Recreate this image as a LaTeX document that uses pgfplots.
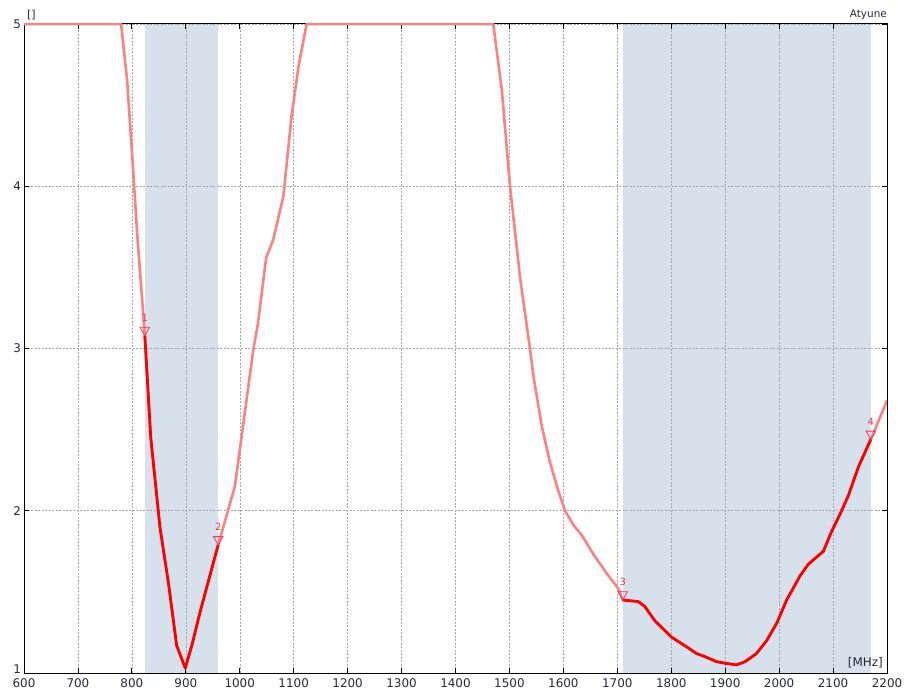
\documentclass[border=0pt]{standalone}
\usepackage{pgfplots}
\pgfplotsset{compat=1.18}
\usepackage{pgfplotstable}
\usepackage{fontspec}
\setmainfont{DejaVu Sans}
\definecolor{bandcol}{RGB}{214,225,236}
\definecolor{lightred}{RGB}{255,128,128}
\definecolor{markcol}{RGB}{255,50,80}
\definecolor{txt}{RGB}{40,40,60}

\pgfplotstableread{
x y
600 5.0
780 5.0
791 4.66
800 4.22
810 3.70
824 3.08
835 2.45
852 1.90
868 1.55
883 1.17
899 1.03
912 1.18
926 1.37
960 1.79
991 2.15
1025 2.99
1034 3.16
1049 3.56
1062 3.67
1081 3.94
1096 4.43
1109 4.74
1124 5.0
1470 5.0
1486 4.59
1501 4.00
1520 3.43
1538 3.00
1545 2.82
1560 2.52
1575 2.30
1589 2.14
1603 2.00
1619 1.91
1634 1.85
1656 1.73
1681 1.61
1702 1.52
1710 1.45
1739 1.44
1751 1.41
1770 1.32
1801 1.22
1829 1.16
1847 1.12
1863 1.10
1884 1.07
1900 1.06
1921 1.05
1937 1.07
1958 1.12
1977 1.20
1996 1.31
2014 1.45
2039 1.60
2054 1.67
2082 1.75
2097 1.87
2113 1.98
2128 2.09
2147 2.27
2170 2.44
2200 2.68
}\fullcurve

\pgfplotstableread{
x y
824 3.08
835 2.45
852 1.90
868 1.55
883 1.17
899 1.03
912 1.18
926 1.37
960 1.79
}\bandone

\pgfplotstableread{
x y
1710 1.45
1739 1.44
1751 1.41
1770 1.32
1801 1.22
1829 1.16
1847 1.12
1863 1.10
1884 1.07
1900 1.06
1921 1.05
1937 1.07
1958 1.12
1977 1.20
1996 1.31
2014 1.45
2039 1.60
2054 1.67
2082 1.75
2097 1.87
2113 1.98
2128 2.09
2147 2.27
2170 2.44
}\bandtwo

\pgfplotstableread{
x y l
824 3.08 1
960 1.79 2
1710 1.45 3
2170 2.44 4
}\markers

\begin{document}
\begin{tikzpicture}
\begin{axis}[
  name=ax,
  set layers,
  scale only axis, width=863bp, height=649bp,
  xmin=600, xmax=2200, ymin=1, ymax=5,
  xtick={600,700,...,2200}, ytick={2,3,4,5},
  extra y ticks={1},
  extra y tick style={yticklabel style={yshift=4bp}},
  grid=major,
  major grid style={gray!70, dash pattern=on 2bp off 1.5bp, line width=0.5bp},
  tick align=inside, major tick length=5bp,
  tick style={black, line width=0.8bp},
  axis line style={black, line width=1bp},
  ticklabel style={font=\fontsize{12}{14}\selectfont, text=txt},
  xticklabel style={yshift=-2bp},
  yticklabel style={xshift=0.5bp},
  /pgf/number format/assume math mode=true,
  /pgf/number format/1000 sep={},
]
\addplot[on layer=axis background, draw=none, fill=bandcol] coordinates {(824,1) (824,5) (960,5) (960,1)} -- cycle;
\addplot[on layer=axis background, draw=none, fill=bandcol] coordinates {(1710,1) (1710,5) (2170,5) (2170,1)} -- cycle;
\addplot[lightred, line width=2.6bp, line join=round] table[x=x,y=y] {\fullcurve};
\addplot[red, line width=2.8bp, line join=round] table[x=x,y=y] {\bandone};
\addplot[red, line width=2.8bp, line join=round] table[x=x,y=y] {\bandtwo};
\addplot[only marks, mark=triangle, mark size=5.5pt,
  mark options={draw=markcol, fill=none, line width=0.8bp, yshift=5.5pt, rotate=180},
  nodes near coords, point meta=explicit symbolic,
  nodes near coords style={font=\fontsize{10}{11}\selectfont, text=markcol, anchor=south, inner sep=0.5bp, yshift=7.5pt}]
  table[x=x,y=y,meta=l] {\markers};
\end{axis}
\node[anchor=south west, font=\fontsize{11}{13}\selectfont, text=txt, inner sep=0pt] at ([xshift=3bp,yshift=4bp]ax.north west) {[]};
\node[anchor=south east, font=\fontsize{10.5}{12}\selectfont, text=txt, inner sep=0pt] at ([xshift=0bp,yshift=4bp]ax.north east) {Atyune};
\node[anchor=south east, font=\fontsize{12}{14}\selectfont, text=txt, inner sep=0pt] at ([xshift=-4bp,yshift=5bp]ax.south east) {[MHz]};
\pgfresetboundingbox
\path[use as bounding box] (-24bp,-21bp) rectangle (880bp,673bp);
\end{tikzpicture}
\end{document}
